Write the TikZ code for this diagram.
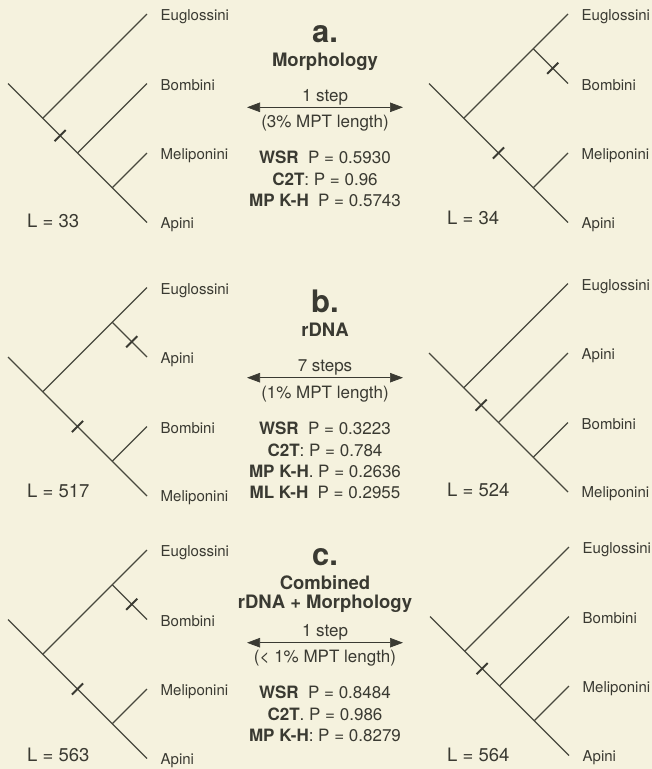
\documentclass[tikz,border=0pt]{standalone}
\usepackage{fontspec}
\setmainfont{TeX Gyre Heros}
\usetikzlibrary{calc,arrows.meta}
\definecolor{bg}{RGB}{245,242,222}
\definecolor{ink}{RGB}{58,58,50}
\definecolor{branch}{RGB}{72,72,62}
\newcommand{\fsz}[1]{\fontsize{#1}{#1}\selectfont}
% tree coordinates: #1 prefix, #2 X of tips, #3 Y of first tip
\newcommand{\treecoords}[3]{%
  \coordinate (#1t1) at (#2,#3);
  \coordinate (#1t2) at (#2,#3+69.5);
  \coordinate (#1t3) at (#2,#3+139);
  \coordinate (#1t4) at (#2,#3+208.5);
  \coordinate (#1r) at (#2-139,#3+69.5);
  \coordinate (#1m) at (#2-104.25,#3+104.25);
  \coordinate (#1nB) at (#2-34.75,#3+173.75);
}
\newcommand{\pectree}[3]{%
  \treecoords{#1}{#2}{#3}
  \coordinate (#1n2) at (#2-69.5,#3+139);
  \draw[br] (#1r) -- (#1t4);
  \draw[br] (#1m) -- (#1t1);
  \draw[br] (#1n2) -- (#1t2);
  \draw[br] (#1nB) -- (#1t3);
}
\newcommand{\baltree}[3]{%
  \treecoords{#1}{#2}{#3}
  \coordinate (#1nA) at (#2-34.75,#3+34.75);
  \draw[br] (#1r) -- (#1t4);
  \draw[br] (#1m) -- (#1t1);
  \draw[br] (#1nA) -- (#1t2);
  \draw[br] (#1nB) -- (#1t3);
}
% tick across the segment a--b at fraction #3
\newcommand{\tickmark}[3]{%
  \draw[tk] ($(#1)!#3!(#2)$) ++(-5.6,5.6) -- ++(11.2,-11.2);
}
\newcommand{\tiplabels}[5]{%
  \node[tiplab] (#1l1) at ($(#1t1)+(13.5,6.5)$) {#2};
  \node[tiplab] (#1l2) at ($(#1t2)+(13.5,6.5)$) {#3};
  \node[tiplab] (#1l3) at ($(#1t3)+(13.5,6.5)$) {#4};
  \node[tiplab] (#1l4) at ($(#1t4)+(13.5,5.5)$) {#5};
}
\begin{document}
\begin{tikzpicture}[x=1pt,y=-1pt,
  br/.style={draw=branch,line width=1.3pt},
  tk/.style={draw=branch!80!black,line width=2pt},
  tiplab/.style={anchor=base west,inner sep=0pt,text=ink,font=\fsz{15}},
  llab/.style={anchor=base west,inner sep=0pt,text=ink,font=\fsz{18.5}},
  letter/.style={anchor=base,inner sep=0pt,text=ink,font=\fsz{31}\bfseries},
  ttl/.style={anchor=base,inner sep=0pt,text=ink,font=\fsz{18.5}\bfseries},
  stp/.style={anchor=base,inner sep=0pt,text=ink,font=\fsz{17}},
  stat/.style={anchor=base,inner sep=0pt,text=ink,font=\fsz{17}},
  steparrow/.style={draw=ink,line width=0.7pt,
    {Triangle[length=13pt,width=9.5pt]}-{Triangle[length=13pt,width=9.5pt]}}
]
\fill[bg] (0,0) rectangle (652,769);
\useasboundingbox (0,0) rectangle (652,769);

% ---------------- panel a ----------------
\pectree{aL}{147}{14}
\tickmark{aLm}{aLn2}{0.5}
\tiplabels{aL}{Euglossini}{Bombini}{Meliponini}{Apini}
\node[llab] (aLlen) at (27,227) {L = 33};

\baltree{aR}{568}{14}
\tickmark{aRnA}{aRt2}{0.56}
\tickmark{aRm}{aRnB}{0.5}
\tiplabels{aR}{Euglossini}{Bombini}{Meliponini}{Apini}
\node[llab] (aRlen) at (447,224) {L = 34};

\node[letter] (aLet) at (325,42) {a.};
\node[ttl] (aTtl) at (325,66) {Morphology};
\node[stp] (aStep) at (325,101) {1 step};
\coordinate (aArL) at (247,107.3);
\coordinate (aArR) at (403,107.3);
\draw[steparrow] (aArL) -- (aArR);
\node[stp] (aPct) at (325,127.5) {(3\% MPT length)};
\node[stat] (aW) at (325,163.3) {\textbf{WSR}\hspace{0.55em}P = 0.5930};
\node[stat] (aC) at (325,185) {\textbf{C2T}: P = 0.96};
\node[stat] (aM) at (325,206.7) {\textbf{MP K-H}\hspace{0.55em}P = 0.5743};

% ---------------- panel b ----------------
\baltree{bL}{147}{287.5}
\tickmark{bLnA}{bLt2}{0.56}
\tickmark{bLm}{bLnB}{0.5}
\tiplabels{bL}{Euglossini}{Apini}{Bombini}{Meliponini}
\node[llab] (bLlen) at (27,497) {L = 517};

\pectree{bR}{568}{283.5}
\tickmark{bRm}{bRn2}{0.5}
\tiplabels{bR}{Euglossini}{Apini}{Bombini}{Meliponini}
\node[llab] (bRlen) at (447,496) {L = 524};

\node[letter] (bLet) at (325,312.7) {b.};
\node[ttl] (bTtl) at (325,336) {rDNA};
\node[stp] (bStep) at (325,371) {7 steps};
\coordinate (bArL) at (247,377.7);
\coordinate (bArR) at (403,377.7);
\draw[steparrow] (bArL) -- (bArR);
\node[stp] (bPct) at (325,398) {(1\% MPT length)};
\node[stat] (bW) at (325,434) {\textbf{WSR}\hspace{0.55em}P = 0.3223};
\node[stat] (bC) at (325,456) {\textbf{C2T}: P = 0.784};
\node[stat] (bM) at (325,477) {\textbf{MP K-H}. P = 0.2636};
\node[stat] (bML) at (325,498) {\textbf{ML K-H}\hspace{0.55em}P = 0.2955};

% ---------------- panel c ----------------
\baltree{cL}{147}{550}
\tickmark{cLnA}{cLt2}{0.56}
\tickmark{cLm}{cLnB}{0.5}
\tiplabels{cL}{Euglossini}{Bombini}{Meliponini}{Apini}
\node[llab] (cLlen) at (27,761) {L = 563};

\pectree{cR}{569}{547}
\tickmark{cRm}{cRn2}{0.5}
\tiplabels{cR}{Euglossini}{Bombini}{Meliponini}{Apini}
\node[llab] (cRlen) at (447,761) {L = 564};

\node[letter] (cLet) at (325,565) {c.};
\node[ttl] (cTtl) at (325,589) {Combined};
\node[ttl] (cTtl2) at (325,608) {rDNA + Morphology};
\node[stp] (cStep) at (325,636.7) {1 step};
\coordinate (cArL) at (247,642.7);
\coordinate (cArR) at (403,642.7);
\draw[steparrow] (cArL) -- (cArR);
\node[stp] (cPct) at (325,662.7) {(< 1\% MPT length)};
\node[stat] (cW) at (325,698) {\textbf{WSR}\hspace{0.55em}P = 0.8484};
\node[stat] (cC) at (325,720) {\textbf{C2T}. P = 0.986};
\node[stat] (cM) at (325,741.7) {\textbf{MP K-H}: P = 0.8279};
\end{tikzpicture}
\end{document}
